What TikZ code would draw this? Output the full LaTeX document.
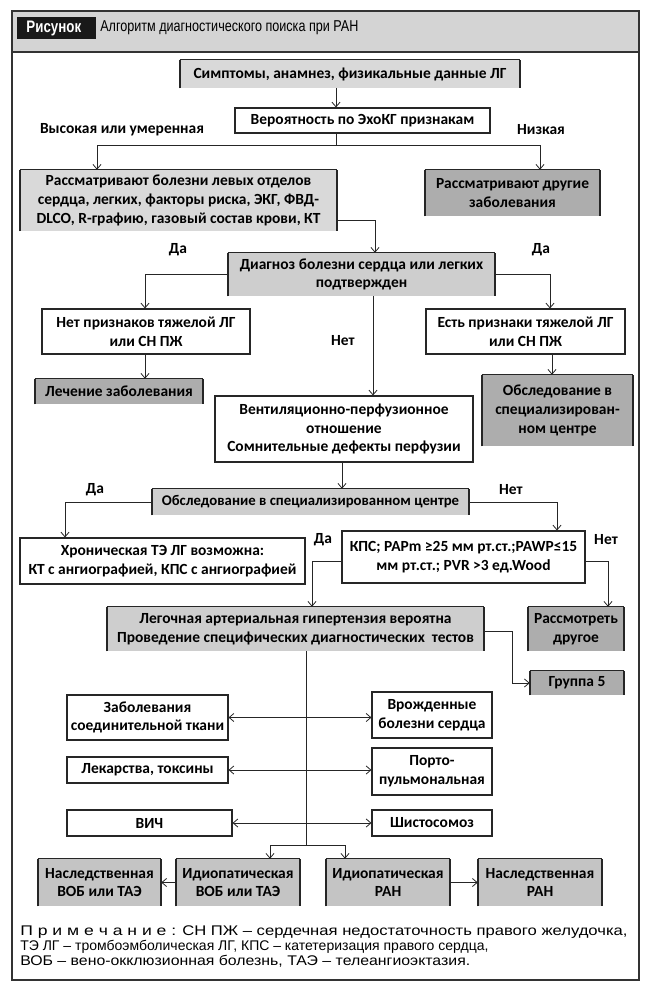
\documentclass[tikz,border=0pt]{standalone}
\usepackage{fontspec}
\usepackage{graphicx}
\setmainfont{Carlito}
\newfontfamily\notefont{Liberation Sans}
\newfontfamily\titlefont[FakeStretch=0.8]{Liberation Sans}
\usetikzlibrary{arrows.meta,calc}
\definecolor{hdr}{HTML}{D4D4D4}
\definecolor{g1}{HTML}{D9D9D9}
\definecolor{g2}{HTML}{CECECE}
\definecolor{g3}{HTML}{ADADAD}
\definecolor{g4}{HTML}{C4C4C4}
\definecolor{frm}{HTML}{333333}
\newcommand\pbox[7]{\node[#6, minimum width={(#4-#2)*0.75pt}, minimum height={(#5-#3)*0.75pt}] (#1) at ({(#2+#4)/2},{(#3+#5)/2}) {#7};}
\tikzset{
  box/.style={inner sep=0pt, align=center, font=\bfseries\fontsize{11.6}{14}\selectfont},
  wbox/.style={box, draw=black!85, line width=0.8pt, fill=white},
  gbox/.style={box, fill=#1},
  lab/.style={font=\bfseries\fontsize{11.6}{14}\selectfont, inner sep=0pt},
  notetext/.style={anchor=base west, inner sep=0pt, font=\notefont\fontsize{10.5}{12}\selectfont},
  ln/.style={draw=black!85, line width=0.6pt},
  arr/.style={ln, -{Straight Barb[length=3.5pt,width=6pt]}},
  biarr/.style={ln, {Straight Barb[length=3.5pt,width=6pt]}-{Straight Barb[length=3.5pt,width=6pt]}}
}
\begin{document}
\begin{tikzpicture}[x=0.75pt,y=-0.75pt]
\useasboundingbox (0,0) rectangle (654,999);
% frame and header
\fill[hdr] (12,11) rectangle (639,52);
\draw[frm, line width=0.9pt] (12,52) -- (639,52);
\draw[frm, line width=1.6pt] (12,11) rectangle (639,980);
\node[fill=black!90, text=white, inner sep=0pt, minimum width=79*0.75pt, minimum height=22*0.75pt, font=\titlefont\bfseries\fontsize{12.5}{14}\selectfont] (fig) at (56.5,28) {\hspace{-4pt}Рисунок};
\node[anchor=west, inner sep=0pt, font=\titlefont\fontsize{11.8}{13}\selectfont] (title) at (100,28) {Алгоритм диагностического поиска при РАН};

% nodes
\pbox{n1}{180}{60}{520}{88}{gbox=g1}{Симптомы, анамнез, физикальные данные ЛГ}
\pbox{n2}{235}{108}{490}{133}{wbox}{Вероятность по ЭхоКГ признакам}
\node[lab] (l1) at (122,130) {Высокая или умеренная};
\node[lab] (l2) at (541,130) {Низкая};
\pbox{n3}{20}{170}{337}{231}{gbox=g1}{Рассматривают болезни левых отделов\\сердца, легких, факторы риска, ЭКГ, ФВД-\\DLCO, R-графию, газовый состав крови, КТ}
\pbox{n4}{425}{170}{600}{216}{gbox=g3}{Рассматривают другие\\заболевания}
\pbox{n5}{228}{253}{495}{296}{gbox=g2}{Диагноз болезни сердца или легких\\подтвержден}
\node[lab] (l3) at (178,250) {Да};
\node[lab] (l4) at (541,250) {Да};
\pbox{n6}{42}{309}{250}{354}{wbox}{Нет признаков тяжелой ЛГ\\или СН ПЖ}
\pbox{n7}{426}{309}{625}{354}{wbox}{Есть признаки тяжелой ЛГ\\или СН ПЖ}
\node[lab] (l5) at (343,341) {Нет};
\pbox{n8}{35}{379}{203}{404}{gbox=g3}{Лечение заболевания}
\pbox{n9}{482}{375}{633}{446}{gbox=g3}{Обследование в\\специализирован-\\ном центре}
\pbox{n10}{215}{396}{473}{462}{wbox}{Вентиляционно-перфузионное\\отношение\\Сомнительные дефекты перфузии}
\pbox{n11}{152}{489}{469}{515}{gbox=g2, font=\bfseries\fontsize{11.1}{14}\selectfont}{Обследование в специализированном центре}
\node[lab] (l6) at (95,490) {Да};
\node[lab] (l7) at (511,490) {Нет};
\pbox{n12}{20}{538}{305}{584}{wbox}{Хроническая ТЭ ЛГ возможна:\\КТ с ангиографией, КПС с ангиографией}
\pbox{n13}{342}{531}{585}{583}{wbox}{КПС; PAPm ≥25 мм рт.ст.;PAWP≤15\\мм рт.ст.; PVR >3 ед.Wood}
\node[lab] (l8) at (323,540) {Да};
\node[lab] (l9) at (606,540) {Нет};
\pbox{n14}{107}{607}{484}{651}{gbox=g2}{Легочная артериальная гипертензия вероятна\\Проведение специфических диагностических\ \ тестов}
\pbox{n15}{528}{607}{624}{651}{gbox=g3}{Рассмотреть\\другое}
\pbox{n16}{530}{671}{624}{695}{gbox=g3}{Группа 5}
\pbox{n17a}{67}{695}{228}{740}{wbox}{Заболевания\\соединительной ткани}
\pbox{n17b}{372}{692}{492}{738}{wbox}{Врожденные\\болезни сердца}
\pbox{n18a}{67}{757}{228}{783}{wbox}{Лекарства, токсины}
\pbox{n18b}{372}{748}{492}{795}{wbox}{Порто-\\пульмональная}
\pbox{n19a}{67}{810}{232}{836}{wbox}{ВИЧ}
\pbox{n19b}{372}{810}{492}{836}{wbox}{Шистосомоз}
\pbox{n20a}{38}{859}{161}{906}{gbox=g4}{Наследственная\\ВОБ или ТАЭ}
\pbox{n20b}{176}{859}{300}{906}{gbox=g4}{Идиопатическая\\ВОБ или ТАЭ}
\pbox{n20c}{326}{859}{450}{906}{gbox=g4}{Идиопатическая\\РАН}
\pbox{n20d}{478}{859}{602}{906}{gbox=g4}{Наследственная\\РАН}

% gray box edges
\foreach \n in {n1,n3,n4,n5,n8,n9,n11,n14,n15,n16,n20a,n20b,n20c,n20d}{
  \draw[black!85, line width=0.8pt] (\n.north west) -- (\n.north east);
  \draw[black!85, line width=1.4pt] (\n.south west) -- ([yshift=-0.4pt]\n.north west);
  \draw[black!85, line width=1.4pt] ([yshift=-0.4pt]\n.north east) -- (\n.south east);
}

% connectors
\coordinate (j1) at (336,145);
\draw[arr] (n1.south -| j1) -- (n2.north -| j1);
\draw[arr] (n2.south -| j1) -- (j1) -| (n3.north -| 97,0);
\draw[arr] (j1) -| (n4.north -| 540,0);
\coordinate (j2) at (375,220);
\draw[arr] (n3.east |- j2) -- (j2) -- (n5.north -| j2);
\draw[arr] (n5.west) -| (n6.north -| 145,0);
\draw[arr] (n5.east) -| (n7.north -| 550,0);
\draw[arr] (n6.south -| 145,0) -- (n8.north -| 145,0);
\draw[arr] (n7.south -| 552,0) -- (n9.north -| 552,0);
\draw[arr] (n5.south -| 373,0) -- (n10.north -| 373,0);
\draw[arr] (n10.south -| 342,0) -- (n11.north -| 342,0);
\draw[arr] (n11.west) -| (n12.north -| 65,0);
\draw[arr] (n11.east) -| (n13.north -| 557,0);
\coordinate (j3) at (312,561);
\draw[arr] (n13.west |- j3) -- (j3) -- (n14.north -| j3);
\coordinate (j4) at (608,561);
\draw[arr] (n13.east |- j4) -- (j4) -- (n15.north -| j4);
\coordinate (j5) at (512,631);
\draw[arr] (n14.east |- j5) -- (j5) |- (n16.west);
\coordinate (j6) at (306,845);
\draw[ln] (n14.south -| j6) -- (j6);
\draw[arr] (j6) -| (n20b.north -| 270,0);
\draw[arr] (j6) -| (n20c.north -| 345,0);
\draw[biarr] (n17a.east) -- (n17b.west |- n17a.east);
\draw[biarr] (n18a.east) -- (n18b.west |- n18a.east);
\draw[biarr] (n19a.east) -- (n19b.west |- n19a.east);
\draw[arr] (n20b.west) -- (n20a.east);
\draw[arr] (n20c.east) -- (n20d.west);

% note
\node[notetext] (note1) at (20,935) {\resizebox{117pt}{\height}{П р и м е ч а н и е :}\hspace{4.5pt}\resizebox{334pt}{\height}{СН ПЖ – сердечная недостаточность правого желудочка,}};
\node[notetext] (note2) at (20,950) {ТЭ ЛГ – тромбоэмболическая ЛГ, КПС – катетеризация правого сердца,};
\node[notetext] (note3) at (20,965) {\resizebox{337.5pt}{\height}{ВОБ – вено-окклюзионная болезнь, ТАЭ – телеангиоэктазия.}};
\end{tikzpicture}
\end{document}
